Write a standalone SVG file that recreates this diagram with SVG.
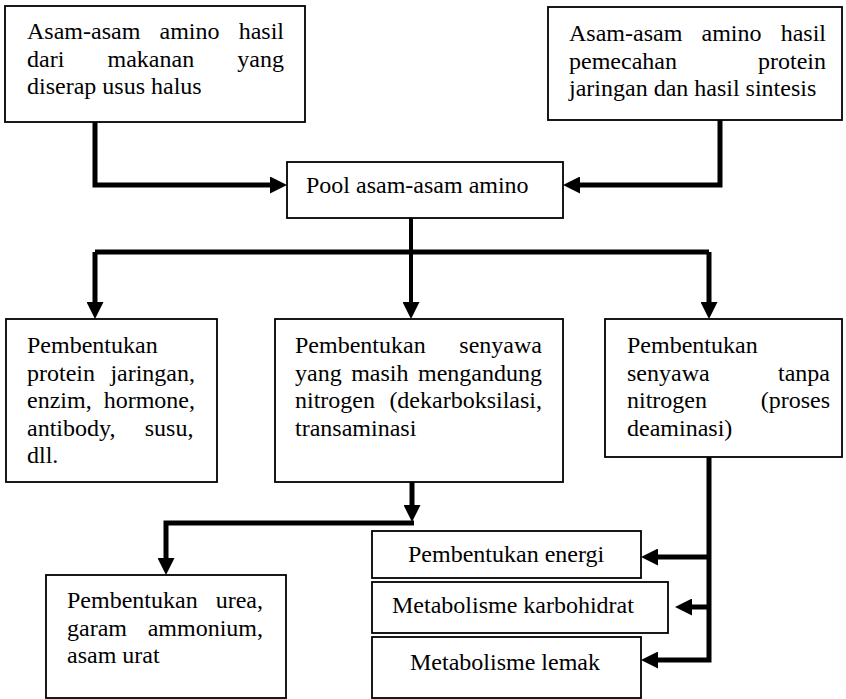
<svg xmlns="http://www.w3.org/2000/svg" width="846" height="699" viewBox="0 0 846 699">
<style>
.box{fill:#fff;stroke:#000;stroke-width:1.8}
.t{font-family:"Liberation Serif","Times New Roman",serif;font-size:24px;fill:#000}
.c{fill:none;stroke:#000;stroke-width:5}
.s{fill:none;stroke:#000;stroke-width:4}
</style>
<defs>
<marker id="ah" markerUnits="userSpaceOnUse" markerWidth="17" markerHeight="17" viewBox="0 0 17 17" refX="0" refY="8.5" orient="auto">
<path d="M0,0 L17,8.5 L0,17 z" fill="#000"/>
</marker>
</defs>
<rect width="846" height="699" fill="#fff"/>
<g id="connectors">
<path class="c" d="M95,122 V185 H270" marker-end="url(#ah)"/>
<path class="c" d="M720,120 V185 H580" marker-end="url(#ah)"/>
<path class="s" d="M411,218 V252"/>
<path class="c" d="M95,252 H709"/>
<path class="c" d="M95,252 V302" marker-end="url(#ah)"/>
<path class="s" d="M411,252 V302" marker-end="url(#ah)"/>
<path class="c" d="M709,252 V302" marker-end="url(#ah)"/>
<path class="c" d="M412,482 V505" marker-end="url(#ah)"/>
<path class="c" d="M414,523 H166 V558" marker-end="url(#ah)"/>
<path class="c" d="M709,457 V660 H658" marker-end="url(#ah)"/>
<path class="c" d="M709,557 H658" marker-end="url(#ah)"/>
<path class="c" d="M709,607 H692" marker-end="url(#ah)"/>
</g>
<g id="n1">
<rect class="box" x="5" y="6" width="300" height="116"/>
<text class="t" x="27" y="39" word-spacing="13.2">Asam-asam amino hasil</text>
<text class="t" x="27" y="66.5" word-spacing="37.2">dari makanan yang</text>
<text class="t" x="27" y="94">diserap usus halus</text>
</g>
<g id="n2">
<rect class="box" x="548" y="7" width="294" height="113"/>
<text class="t" x="569" y="41" word-spacing="13.2">Asam-asam amino hasil</text>
<text class="t" x="569" y="68.5" word-spacing="75.1">pemecahan protein</text>
<text class="t" x="569" y="96">jaringan dan hasil sintesis</text>
</g>
<g id="pool">
<rect class="box" x="287" y="162" width="276" height="56"/>
<text class="t" x="306" y="193">Pool asam-asam amino</text>
</g>
<g id="n3">
<rect class="box" x="6" y="319" width="211" height="163"/>
<text class="t" x="27" y="353">Pembentukan</text>
<text class="t" x="27" y="381" word-spacing="9.4">protein jaringan,</text>
<text class="t" x="27" y="408" word-spacing="6">enzim, hormone,</text>
<text class="t" x="27" y="435.5" word-spacing="23.3">antibody, susu,</text>
<text class="t" x="27" y="463">dll.</text>
</g>
<g id="n4">
<rect class="box" x="275" y="319" width="288" height="163"/>
<text class="t" x="295" y="353" word-spacing="27.7">Pembentukan senyawa</text>
<text class="t" x="295" y="381" word-spacing="3.5">yang masih mengandung</text>
<text class="t" x="295" y="408" word-spacing="8.4">nitrogen (dekarboksilasi,</text>
<text class="t" x="295" y="435.5">transaminasi</text>
</g>
<g id="n5">
<rect class="box" x="605" y="319" width="237" height="138"/>
<text class="t" x="627" y="353">Pembentukan</text>
<text class="t" x="627" y="380.5" word-spacing="62.4">senyawa tanpa</text>
<text class="t" x="627" y="408" word-spacing="47.7">nitrogen (proses</text>
<text class="t" x="627" y="435.5">deaminasi)</text>
</g>
<g id="n6">
<rect class="box" x="46" y="575" width="240" height="123"/>
<text class="t" x="67" y="608" word-spacing="12">Pembentukan urea,</text>
<text class="t" x="67" y="636" word-spacing="14.7">garam ammonium,</text>
<text class="t" x="67" y="663">asam urat</text>
</g>
<g id="n7">
<rect class="box" x="372" y="531" width="269" height="47"/>
<text class="t" x="408" y="562">Pembentukan energi</text>
</g>
<g id="n8">
<rect class="box" x="372" y="582" width="296" height="51"/>
<text class="t" x="392" y="613">Metabolisme karbohidrat</text>
</g>
<g id="n9">
<rect class="box" x="372" y="637" width="269" height="61"/>
<text class="t" x="410" y="670">Metabolisme lemak</text>
</g>
</svg>
